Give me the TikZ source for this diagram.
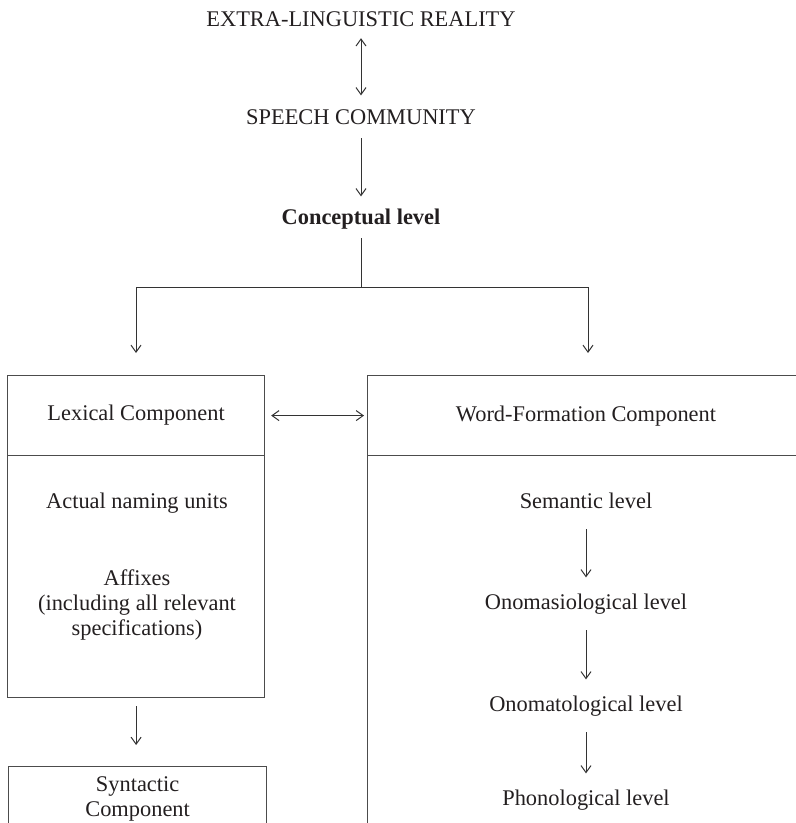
\documentclass[tikz,border=0pt]{standalone}
\usepackage{fontspec}
\setmainfont{Liberation Serif}
\usetikzlibrary{arrows.meta}
\newcommand{\lblfont}{\fontsize{11.2}{12.5}\selectfont}
\definecolor{ink}{HTML}{231F20}
\tikzset{
  lbl/.style={inner xsep=0pt, inner ysep=4pt, text height=7.6pt, text depth=2.4pt,
    anchor=base, font=\lblfont, text=ink},
  lvl/.style={lbl, inner ysep=8pt},
  boxpart/.style={draw=black!70, line width=0.6pt, inner sep=0pt, anchor=north west,
    font=\lblfont, text=ink, align=center},
  arr/.style={-{Straight Barb[length=3.5pt,width=5pt]}, draw=black!80, line width=0.5pt},
  darr/.style={{Straight Barb[length=3.5pt,width=5pt]}-{Straight Barb[length=3.5pt,width=5pt]},
    draw=black!80, line width=0.5pt}
}
\begin{document}
\begin{tikzpicture}[x=0.5pt, y=-0.5pt]
  \useasboundingbox (0,0) rectangle (796,823);
  \clip (0,0) rectangle (796,823);

  % top chain
  \node[lbl] (reality) at (361,27) {EXTRA-LINGUISTIC REALITY};
  \node[lbl] (community) at (361,125) {SPEECH COMMUNITY};
  \node[lbl, font=\lblfont\bfseries] (concept) at (361,225) {Conceptual level};
  \draw[darr, shorten <=-1pt, shorten >=3pt] (reality) -- (community);
  \draw[arr, shorten >=2.5pt] (community) -- (concept);

  \coordinate (split) at (361,288);
  \coordinate (lexin) at (136,353);
  \coordinate (wfin) at (588,353);
  \draw[draw=black!80, line width=0.5pt] (concept) -- (split);
  \draw[arr] (split) -| (lexin);
  \draw[arr] (split) -| (wfin);

  % lexical side
  \node[boxpart, minimum width=128.5pt, minimum height=40pt] (lexhead) at (7,375) {Lexical Component};
  \node[boxpart, minimum width=128.5pt, minimum height=121pt] (lexbody) at (7,455) {};
  \node[lbl] (units) at (137,508) {Actual naming units};
  \node[font=\lblfont, text=ink, align=center, inner sep=0pt] (affixes) at (137,605)
    {Affixes\\(including all relevant\\specifications)};
  \node[boxpart, minimum width=129pt, minimum height=32pt] (syntax) at (8,766) {Syntactic\\Component};
  \draw[arr, shorten <=4pt, shorten >=10.5pt] (lexbody.south) -- (lexbody.south |- syntax.north);

  % word-formation side
  \node[boxpart, minimum width=231.5pt, minimum height=40pt] (wfhead) at (367,375) {};
  \node[lbl] (wftitle) at (586,421) {Word-Formation Component};
  \node[boxpart, minimum width=231.5pt, minimum height=192.5pt] (wfbody) at (367,455) {};
  \draw[darr, shorten <=3pt, shorten >=1.5pt] (lexhead.east) -- (wfhead.west);

  \node[lvl] (semantic) at (586,508) {Semantic level};
  \node[lvl] (onomasio) at (586,609) {Onomasiological level};
  \node[lvl] (onomato) at (586,711) {Onomatological level};
  \node[lvl] (phono) at (586,805) {Phonological level};
  \draw[arr] (semantic) -- (onomasio);
  \draw[arr] (onomasio) -- (onomato);
  \draw[arr] (onomato) -- (phono);
\end{tikzpicture}
\end{document}
